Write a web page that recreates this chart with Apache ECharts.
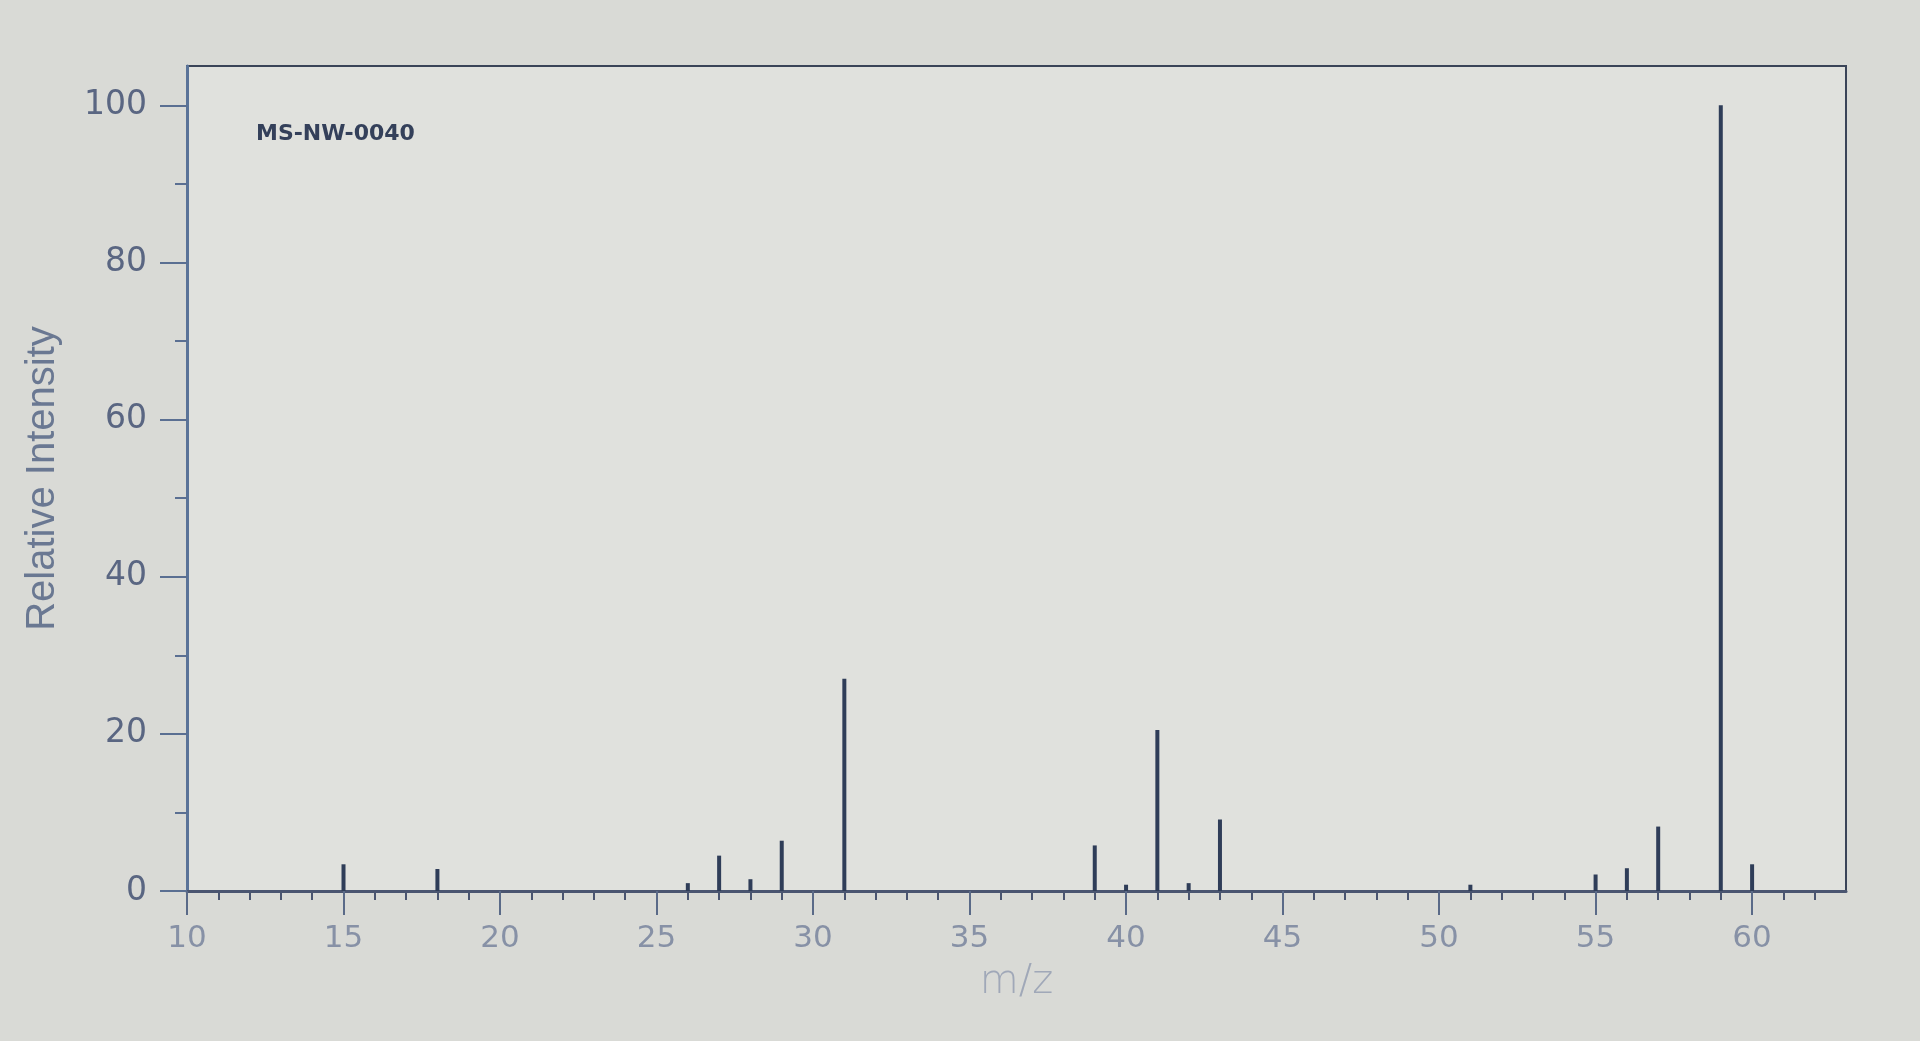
<!DOCTYPE html>
<html>
<head>
<meta charset="utf-8">
<script src="https://cdn.jsdelivr.net/npm/echarts@6/dist/echarts.min.js"></script>
<style>
  html, body { margin: 0; padding: 0; background: #d9dad6; }
  #chart { width: 1920px; height: 1041px; }
</style>
</head>
<body>
<div id="chart"></div>
<script>
// m/z positions of the peaks and their relative intensities
const mzValues = [15, 18, 26, 27, 28, 29, 31, 39, 40, 41, 42, 43, 51, 55, 56, 57, 59, 60];
const intensities = [3.4, 2.8, 1, 4.5, 1.5, 6.4, 27, 5.8, 0.8, 20.5, 1, 9.1, 0.8, 2.1, 2.9, 8.2, 100, 3.4];
const xTickLabels = [10, 15, 20, 25, 30, 35, 40, 45, 50, 55, 60];
const yTickLabels = [0, 20, 40, 60, 80, 100];
const spectrumId = 'MS-NW-0040';

const peaks = mzValues.map((m, i) => [m, intensities[i]]);

const chart = echarts.init(document.getElementById('chart'), null, { renderer: 'canvas' });
chart.setOption({
  backgroundColor: '#d9dad6',
  animation: false,
  title: {
    text: spectrumId,
    left: 251,
    top: 118,
    textStyle: { fontFamily: 'DejaVu Sans', fontSize: 22, fontWeight: 'bold', color: '#34405a' }
  },
  grid: {
    left: 187, right: 74, top: 66, bottom: 150,
    show: true, backgroundColor: '#e0e1dd', borderColor: '#3a4458', borderWidth: 2
  },
  xAxis: {
    type: 'value',
    min: 10, max: 63, interval: 5,
    name: 'm/z',
    nameLocation: 'middle',
    nameGap: 72,
    nameTextStyle: { fontFamily: 'DejaVu Sans', fontSize: 40, fontWeight: 'lighter', color: '#a0a8b8' },
    axisLine: { show: true, lineStyle: { color: '#4a5570', width: 3 } },
    axisTick: { show: true, length: 24, customValues: xTickLabels, lineStyle: { color: '#5a6a88', width: 2 } },
    minorTick: { show: true, splitNumber: 5, length: 9, lineStyle: { color: '#4a5570', width: 2 } },
    axisLabel: {
      customValues: xTickLabels, margin: 32,
      fontFamily: 'DejaVu Sans', fontSize: 31, color: '#8791a6'
    },
    splitLine: { show: false }
  },
  yAxis: {
    type: 'value',
    min: 0, max: 105, interval: 20,
    name: 'Relative Intensity',
    nameLocation: 'middle',
    nameGap: 124,
    nameTextStyle: { fontFamily: 'Liberation Sans', fontSize: 40, color: '#6a7892' },
    axisLine: { show: true, lineStyle: { color: '#5a7398', width: 3 } },
    axisTick: { show: true, length: 27, customValues: yTickLabels, lineStyle: { color: '#5a6f92', width: 2 } },
    minorTick: { show: true, splitNumber: 2, length: 12, lineStyle: { color: '#5a6f92', width: 2 } },
    axisLabel: {
      customValues: yTickLabels, margin: 40,
      fontFamily: 'DejaVu Sans', fontSize: 33, color: '#5a6682'
    },
    splitLine: { show: false }
  },
  series: [{
    type: 'bar',
    data: peaks,
    barWidth: 4,
    itemStyle: { color: '#2f3d58' }
  }]
});
</script>
</body>
</html>
